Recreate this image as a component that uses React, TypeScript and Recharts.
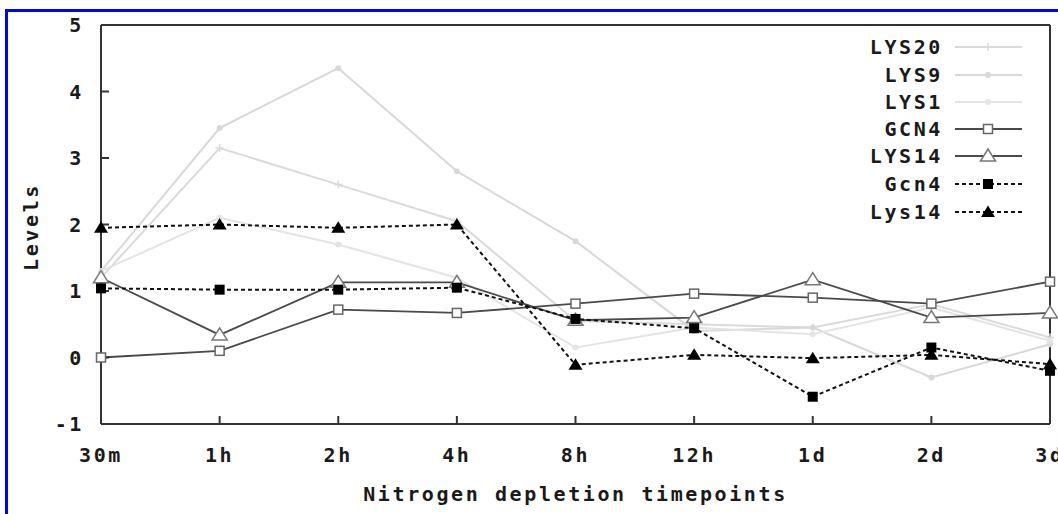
import React from 'react';
import { LineChart, Line, XAxis, YAxis } from 'recharts';

// timepoints on the x axis
const timepoints = ['30m', '1h', '2h', '4h', '8h', '12h', '1d', '2d', '3d'];
const levelTicks = [-1, 0, 1, 2, 3, 4, 5];

// light grey mRNA series
const lys20 = [1.2, 3.15, 2.6, 2.05, 0.55, 0.5, 0.45, 0.8, 0.3];
const lys9 = [1.3, 3.45, 4.35, 2.8, 1.75, 0.4, 0.45, -0.3, 0.2];
const lys1 = [1.3, 2.1, 1.7, 1.2, 0.15, 0.45, 0.35, 0.75, 0.25];
// dark solid series
const gcn4Mrna = [0, 0.1, 0.72, 0.67, 0.81, 0.96, 0.9, 0.81, 1.14];
const lys14Mrna = [1.2, 0.34, 1.13, 1.13, 0.56, 0.6, 1.17, 0.6, 0.67];
// dotted protein series
const gcn4Prot = [1.04, 1.02, 1.02, 1.05, 0.58, 0.44, -0.59, 0.15, -0.2];
const lys14Prot = [1.95, 2.0, 1.95, 2.0, -0.11, 0.04, -0.01, 0.04, -0.1];

const rows = timepoints.map((t, i) => ({
    t,
    LYS20: lys20[i],
    LYS9: lys9[i],
    LYS1: lys1[i],
    GCN4: gcn4Mrna[i],
    LYS14: lys14Mrna[i],
    Gcn4: gcn4Prot[i],
    Lys14: lys14Prot[i],
}));

const FONT = "'DejaVu Sans Mono', monospace";
const AXIS = '#333';

type Kind = 'plus' | 'dot' | 'square' | 'triangle' | 'fsquare' | 'ftriangle';

const series: { key: string; color: string; width: number; dash?: string; kind: Kind }[] = [
    { key: 'LYS20', color: '#dadada', width: 2, kind: 'plus' },
    { key: 'LYS9', color: '#d8d8d8', width: 2, kind: 'dot' },
    { key: 'LYS1', color: '#e4e4e4', width: 2, kind: 'dot' },
    { key: 'GCN4', color: '#4a4a4a', width: 1.8, kind: 'square' },
    { key: 'LYS14', color: '#4a4a4a', width: 1.8, kind: 'triangle' },
    { key: 'Gcn4', color: '#111', width: 2, dash: '4 3', kind: 'fsquare' },
    { key: 'Lys14', color: '#111', width: 2, dash: '4 3', kind: 'ftriangle' },
];

function Marker({ kind, cx, cy, color }: { kind: Kind; cx: number; cy: number; color: string }) {
    switch (kind) {
        case 'plus':
            return <path d={`M${cx - 4},${cy}H${cx + 4}M${cx},${cy - 4}V${cy + 4}`} stroke={color} strokeWidth={1.5} />;
        case 'dot':
            return <circle cx={cx} cy={cy} r={3} fill={color} />;
        case 'square':
            return <rect x={cx - 4.5} y={cy - 4.5} width={9} height={9} fill="#fff" stroke="#666" strokeWidth={1.5} />;
        case 'triangle':
            return <path d={`M${cx},${cy - 7}L${cx + 7.5},${cy + 5}L${cx - 7.5},${cy + 5}Z`} fill="#fff" stroke="#777" strokeWidth={1.5} />;
        case 'fsquare':
            return <rect x={cx - 5} y={cy - 5} width={10} height={10} fill="#000" />;
        default:
            return <path d={`M${cx},${cy - 6.5}L${cx + 7},${cy + 5}L${cx - 7},${cy + 5}Z`} fill="#000" />;
    }
}

const dotFor = (kind: Kind, color: string) => (p: any) =>
    <Marker key={`${kind}-${p.index}`} kind={kind} cx={p.cx} cy={p.cy} color={color} />;

const textStyle = { fill: '#1a1a1a', fontSize: 20, fontWeight: 700, fontFamily: FONT, letterSpacing: 2.6 };

function LegendBox() {
    const rowY = [47, 75, 102, 129, 156, 184, 212];
    return (
        <svg width={1058} height={514} style={{ position: 'absolute', left: 0, top: 0, pointerEvents: 'none' }}>
            {series.map((s, i) => (
                <g key={s.key}>
                    <text x={943} y={rowY[i]} textAnchor="end" dominantBaseline="central" {...textStyle}>{s.key}</text>
                    <line x1={955} x2={1022} y1={rowY[i]} y2={rowY[i]} stroke={s.color} strokeWidth={s.width} strokeDasharray={s.dash} />
                    <Marker kind={s.kind} cx={988} cy={rowY[i]} color={s.color} />
                </g>
            ))}
        </svg>
    );
}

export default function App() {
    return (
        <div style={{ position: 'absolute', left: 0, top: 0, width: 1058, height: 514, background: '#fff', overflow: 'hidden' }}>
            {/* blue frame round the figure */}
            <div style={{ position: 'absolute', left: 5, top: 9, right: -10, bottom: -10, borderTop: '3px solid #0000ff', borderLeft: '3px solid #0000ff' }} />
            <LineChart width={1058} height={514} data={rows} margin={{ top: 24, right: 7, bottom: 0, left: 0 }}>
                <XAxis
                    dataKey="t"
                    height={90}
                    interval={0}
                    padding={{ left: 0, right: 0 }}
                    tickSize={-8}
                    tickMargin={32}
                    axisLine={{ stroke: AXIS, strokeWidth: 2 }}
                    tickLine={{ stroke: AXIS, strokeWidth: 2 }}
                    tick={textStyle}
                    label={{ value: 'Nitrogen depletion timepoints', position: 'insideBottom', offset: 13, ...textStyle }}
                />
                <XAxis
                    xAxisId="top"
                    orientation="top"
                    dataKey="t"
                    height={1}
                    interval={0}
                    padding={{ left: 0, right: 0 }}
                    tickSize={-8}
                    axisLine={{ stroke: AXIS, strokeWidth: 2 }}
                    tickLine={{ stroke: AXIS, strokeWidth: 2 }}
                    tick={false}
                />
                <YAxis
                    type="number"
                    width={101}
                    domain={[-1, 5]}
                    ticks={levelTicks}
                    interval={0}
                    tickSize={-8}
                    tickMargin={25}
                    axisLine={{ stroke: AXIS, strokeWidth: 2 }}
                    tickLine={{ stroke: AXIS, strokeWidth: 2 }}
                    tick={textStyle}
                    label={{
                        content: () => (
                            <text x={31} y={227} transform="rotate(-90 31 227)" textAnchor="middle" dominantBaseline="central" {...textStyle}>
                                Levels
                            </text>
                        ),
                    }}
                />
                <YAxis
                    yAxisId="right"
                    orientation="right"
                    type="number"
                    width={1}
                    domain={[-1, 5]}
                    ticks={levelTicks}
                    interval={0}
                    tickSize={-8}
                    axisLine={{ stroke: AXIS, strokeWidth: 2 }}
                    tickLine={{ stroke: AXIS, strokeWidth: 2 }}
                    tick={false}
                />
                {series.map((s) => (
                    <Line
                        key={s.key}
                        dataKey={s.key}
                        stroke={s.color}
                        strokeWidth={s.width}
                        strokeDasharray={s.dash}
                        dot={dotFor(s.kind, s.color)}
                        activeDot={false}
                        isAnimationActive={false}
                    />
                ))}
            </LineChart>
            <LegendBox />
        </div>
    );
}
